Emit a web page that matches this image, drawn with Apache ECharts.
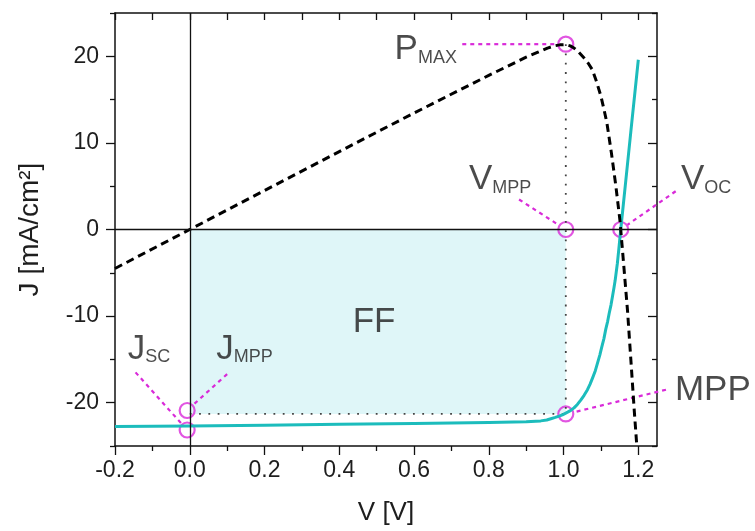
<!DOCTYPE html>
<html>
<head>
<meta charset="utf-8">
<script src="https://cdn.jsdelivr.net/npm/echarts@6/dist/echarts.min.js"></script>
<style>
  html, body { margin: 0; padding: 0; background: #fff; }
  #chart { width: 755px; height: 531px; }
</style>
</head>
<body>
<div id="chart"></div>
<script>
// Current density J (mA/cm²) versus voltage V (V)
const jvVoltage = [-0.2, 0, 0.2, 0.4, 0.6, 0.8, 0.9, 0.939, 0.955, 0.966, 0.978, 0.988, 0.997, 1.006, 1.017, 1.028, 1.037, 1.046, 1.055, 1.064, 1.071, 1.078, 1.085, 1.091, 1.097, 1.102, 1.108, 1.113, 1.118, 1.122, 1.127, 1.131, 1.135, 1.138, 1.144, 1.148, 1.153, 1.165, 1.18, 1.2];
const jvCurrent = [-22.75, -22.7, -22.6, -22.5, -22.4, -22.3, -22.2, -22.1, -22.0, -21.85, -21.7, -21.55, -21.4, -21.2, -20.95, -20.6, -20.2, -19.7, -19.15, -18.5, -17.85, -17.1, -16.3, -15.4, -14.5, -13.6, -12.6, -11.5, -10.6, -9.7, -8.7, -7.7, -6.7, -5.9, -3.9, -2.2, 0, 5.0, 11.3, 19.6];

// Output power density (mW/cm²) versus voltage, drawn on the same axis
const powerVoltage = [-0.2, 0, 0.2, 0.4, 0.6, 0.8, 0.9, 0.93, 0.957, 0.975, 0.99, 1.006, 1.018, 1.028, 1.04, 1.055, 1.066, 1.077, 1.088, 1.1, 1.108, 1.116, 1.128, 1.14, 1.151, 1.16, 1.171, 1.18, 1.189, 1.196];
const powerValue = [-4.5, 0, 4.5, 9.0, 13.45, 17.8, 19.9, 20.45, 20.95, 21.2, 21.32, 21.35, 21.2, 20.95, 20.5, 19.8, 19.2, 18.45, 17.1, 15.4, 13.9, 12.3, 8.85, 5.0, 1.0, -3.6, -9.3, -15.0, -20.8, -25];

// Characteristic points of the cell
const vMpp = 1.006;
const jMpp = -21.3;
const pMax = 21.4;
const vOc = 1.153;
const jSc = -23.15;
const jMppOnAxis = -20.9;
const pointV = [vMpp, vMpp, vOc, -0.007, -0.007, vMpp];
const pointJ = [pMax, 0, 0, jSc, jMppOnAxis, jMpp];

// Annotation texts (main letter + subscript) and where they sit (V, J)
const labelMain = ['P', 'V', 'V', 'J', 'J', 'FF', 'MPP'];
const labelSub = ['MAX', 'MPP', 'OC', 'SC', 'MPP', '', ''];
const labelV = [0.548, 0.747, 1.314, -0.166, 0.0707, 0.436, 1.298];
const labelJ = [18.79, 3.79, 3.79, -15.81, -15.81, -12.73, -20.58];

// Leader lines from each annotation to its point
const leaderFromV = [0.729, 0.881, 1.300, -0.145, 0.100, 1.274];
const leaderFromJ = [21.4, 3.46, 4.42, -16.5, -16.7, -18.5];
const leaderToV = [0.984, 0.987, 1.171, -0.022, 0.0096, 1.028];
const leaderToJ = [21.4, 0.52, 0.54, -22.43, -20.23, -21.1];

// Axis ticks
const xMajorTicks = [-0.2, 0, 0.2, 0.4, 0.6, 0.8, 1.0, 1.2];
const xMinorTicks = [-0.1, 0.1, 0.3, 0.5, 0.7, 0.9, 1.1];
const yMajorTicks = [-20, -10, 0, 10, 20];
const yMinorTicks = [-25, -15, -5, 5, 15, 25];

const FONT = '"Liberation Sans", Arial, Helvetica, sans-serif';
const INK = '#1e1e1e';
const TEAL = '#1cbcbc';
const MAGENTA = '#d92ad9';

const X_MIN = -0.2, X_MAX = 1.25, Y_MIN = -25, Y_MAX = 25;

function xAxisDef(position, ticks, len, inside, showLine, showLabels) {
  return {
    type: 'value', position: position, min: X_MIN, max: X_MAX,
    axisLine: { show: showLine, onZero: false, lineStyle: { color: '#111', width: 1.5 } },
    axisTick: { show: true, inside: inside, length: len, customValues: ticks, lineStyle: { color: '#111', width: 1.3 } },
    axisLabel: showLabels ? {
      show: true, customValues: ticks, margin: 13,
      formatter: v => v.toFixed(1), fontSize: 23, color: INK, fontFamily: FONT
    } : { show: false },
    splitLine: { show: false }
  };
}
function yAxisDef(position, ticks, len, inside, showLine, showLabels) {
  return {
    type: 'value', position: position, min: Y_MIN, max: Y_MAX,
    axisLine: { show: showLine, onZero: false, lineStyle: { color: '#111', width: 1.5 } },
    axisTick: { show: true, inside: inside, length: len, customValues: ticks, lineStyle: { color: '#111', width: 1.3 } },
    axisLabel: showLabels ? {
      show: true, customValues: ticks, margin: 16,
      formatter: v => String(v), fontSize: 23, color: INK, fontFamily: FONT
    } : { show: false },
    splitLine: { show: false }
  };
}

const xAxes = [
  xAxisDef('bottom', xMajorTicks, 9, false, true, true),
  xAxisDef('bottom', xMinorTicks, 5, false, false, false),
  xAxisDef('top', xMajorTicks, 7, true, true, false),
  xAxisDef('top', xMinorTicks, 7, true, false, false)
];
Object.assign(xAxes[0], {
  name: 'V [V]', nameLocation: 'middle', nameGap: 54,
  nameTextStyle: { fontSize: 26, color: INK, fontFamily: FONT }
});

const yAxes = [
  yAxisDef('left', yMajorTicks, 9, false, true, true),
  yAxisDef('left', yMinorTicks, 5, false, false, false),
  yAxisDef('right', yMajorTicks, 9, true, true, false),
  yAxisDef('right', yMinorTicks, 5, true, false, false)
];
Object.assign(yAxes[0], {
  name: 'J [mA/cm²]', nameLocation: 'middle', nameGap: 71,
  nameTextStyle: { fontSize: 28, color: INK, fontFamily: FONT }
});

const series = [];

// Fill-factor rectangle between the origin and the maximum power point
series.push({
  type: 'line', data: [], silent: true,
  markArea: {
    silent: true,
    itemStyle: { color: '#dff6f8' },
    data: [[{ xAxis: 0, yAxis: jMpp }, { xAxis: vMpp, yAxis: 0 }]]
  }
});

// Zero lines of both axes
series.push({
  type: 'line', data: [], silent: true,
  markLine: {
    silent: true, symbol: ['none', 'none'], label: { show: false },
    lineStyle: { color: '#111', width: 1.3, type: 'solid' },
    data: [{ xAxis: 0 }, { yAxis: 0 }]
  }
});

// Dotted guide lines through the maximum power point
const dotted = { color: '#444', width: 1.8, type: [1.8, 7.5] };
series.push({
  type: 'line', silent: true, symbol: 'none', lineStyle: dotted,
  data: [[vMpp, pMax], [vMpp, jMpp]]
});
series.push({
  type: 'line', silent: true, symbol: 'none', lineStyle: dotted,
  data: [[0, jMpp], [vMpp, jMpp]]
});

// J–V curve
series.push({
  name: 'J', type: 'line', symbol: 'none', smooth: false,
  lineStyle: { color: TEAL, width: 3, join: 'round' },
  data: jvVoltage.map((v, i) => [v, jvCurrent[i]])
});

// Power curve
series.push({
  name: 'P', type: 'line', symbol: 'none', smooth: false,
  lineStyle: { color: '#000', width: 3, type: [8, 5], join: 'round' },
  data: powerVoltage.map((v, i) => [v, powerValue[i]])
});

// Leader lines (may reach outside the plot frame)
series.push({
  type: 'custom', silent: true, clip: false,
  encode: { x: [0, 2], y: [1, 3] },
  data: leaderFromV.map((v, i) => [v, leaderFromJ[i], leaderToV[i], leaderToJ[i]]),
  renderItem: (params, api) => {
    const a = api.coord([api.value(0), api.value(1)]);
    const b = api.coord([api.value(2), api.value(3)]);
    return {
      type: 'line',
      shape: { x1: a[0], y1: a[1], x2: b[0], y2: b[1] },
      style: { stroke: MAGENTA, lineWidth: 2.2, lineDash: [4, 4], fill: null }
    };
  }
});

// Marker circles
series.push({
  type: 'scatter', silent: true, clip: false, symbol: 'circle', symbolSize: 15,
  itemStyle: { color: 'rgba(0,0,0,0)', borderColor: MAGENTA, borderWidth: 2.2 },
  data: pointV.map((v, i) => [v, pointJ[i]])
});

// Annotation texts
series.push({
  type: 'scatter', silent: true, clip: false, symbolSize: 0,
  data: labelV.map((v, i) => ({
    value: [v, labelJ[i]],
    label: {
      show: true, position: [0, 0], align: 'left', verticalAlign: 'bottom',
      formatter: labelSub[i] ? '{m|' + labelMain[i] + '}{s|' + labelSub[i] + '}' : '{m|' + labelMain[i] + '}',
      rich: {
        m: { fontSize: 35, lineHeight: 35, color: INK, fontFamily: FONT, verticalAlign: 'bottom' },
        s: { fontSize: 18, lineHeight: 13, color: INK, fontFamily: FONT, verticalAlign: 'bottom' }
      }
    }
  }))
});

const chart = echarts.init(document.getElementById('chart'), null, { renderer: 'canvas' });
chart.setOption({
  animation: false,
  backgroundColor: '#fff',
  grid: { left: 115, right: 98, top: 13, bottom: 83, containLabel: false },
  xAxis: xAxes,
  yAxis: yAxes,
  series: series
});
</script>
</body>
</html>
